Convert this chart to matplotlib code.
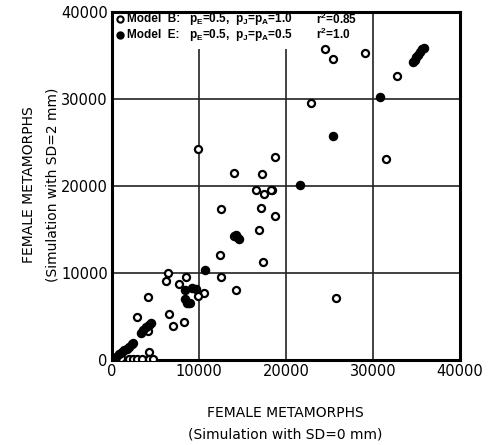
import numpy as np
import matplotlib.pyplot as plt

plt.rcParams['mathtext.fontset'] = 'custom'
plt.rcParams['mathtext.rm'] = 'Liberation Sans:bold'
plt.rcParams['mathtext.it'] = 'Liberation Sans:bold'
plt.rcParams['mathtext.bf'] = 'Liberation Sans:bold'

# Model B (open circles): simulation SD=0 vs SD=2
model_b_x = [24480, 25360, 29080, 32800, 22900, 31490, 18350, 18740, 25710,
             9920, 18700, 14020, 17240, 16550, 17430, 18240, 12490, 17160,
             16900, 14020, 12450, 17360, 6440, 8470, 12530, 6210, 7700,
             10610, 9920, 14290, 8970, 4180, 6510, 8280, 7050, 2910, 4100,
             2450, 4290, 1900, 2400, 2900, 3400, 4300, 4700, 1000]
model_b_y = [35710, 34630, 35250, 32680, 29500, 23140, 19540, 16550, 7160,
             24210, 23290, 21530, 21340, 19500, 19120, 19500, 17390, 17510,
             14980, 14290, 12110, 11230, 9960, 9580, 9540, 9080, 8740,
             7740, 7360, 8050, 6590, 7280, 5250, 4400, 3910, 4980, 3370,
             1920, 950, 100, 80, 100, 150, 150, 100, 200]

# Model E (filled circles)
model_e_x = [34600, 34800, 35000, 35200, 35400, 35600, 35900, 30800, 25440,
             21600, 14200, 14400, 14600, 10690, 8350, 9230, 9620, 8400,
             8600, 8800, 3300, 3600, 3900, 4200, 4500, 200, 500, 800, 1100,
             1400, 1700, 2000, 2300]
model_e_y = [34200, 34500, 34800, 35100, 35400, 35700, 35900, 30190, 25780,
             20060, 14400, 14100, 13900, 10340, 8010, 8310, 8160, 7000,
             6600, 6500, 3100, 3500, 3800, 4000, 4200, 100, 400, 700, 900,
             1100, 1300, 1500, 1800]

ticks = [0, 10000, 20000, 30000, 40000]

fig = plt.figure(figsize=(4.88, 4.45), dpi=100)
ax = fig.add_axes([0.2295, 0.191, 0.713, 0.782])

ax.set_xlim(0, 40000)
ax.set_ylim(0, 40000)
ax.set_xticks(ticks)
ax.set_yticks(ticks)
ax.set_xticklabels([str(t) for t in ticks], fontsize=10.5, family='DejaVu Sans')
ax.set_yticklabels([str(t) for t in ticks], fontsize=10.5, family='DejaVu Sans')
ax.tick_params(length=0, pad=3)

for v in ticks[1:-1]:
    ax.axvline(v, color='#222222', lw=1.2, zorder=1)
    ax.axhline(v, color='#222222', lw=1.2, zorder=1)

for s in ax.spines.values():
    s.set_linewidth(2.2)

ax.scatter(model_b_x, model_b_y, s=26, facecolors='white', edgecolors='black',
           linewidths=1.6, zorder=3)
ax.scatter(model_e_x, model_e_y, s=34, color='black', zorder=4)

# legend block in upper left
ax.add_patch(plt.Rectangle((0.005, 0.895), 0.72, 0.1, transform=ax.transAxes,
                           facecolor='white', edgecolor='none', zorder=2))
fs = 8.5
rows = [('white', 'Model  B:', r'p$_{E}$=0.5,  p$_{J}$=p$_{A}$=1.0', r'r$^{2}$=0.85', 0.979),
        ('black', 'Model  E:', r'p$_{E}$=0.5,  p$_{J}$=p$_{A}$=0.5', r'r$^{2}$=1.0', 0.935)]
for fc, name, ptxt, rtxt, yy in rows:
    ax.plot([0.022], [yy], marker='o', ms=4.5, mfc=fc, mec='black', mew=1.5,
            transform=ax.transAxes, zorder=5, clip_on=False)
    ax.text(0.043, yy, name, transform=ax.transAxes, fontsize=fs,
            fontweight='bold', family='Liberation Sans', va='center', zorder=5)
    ax.text(0.222, yy, ptxt, transform=ax.transAxes, fontsize=fs,
            fontweight='bold', family='Liberation Sans', va='center', zorder=5)
    ax.text(0.585, yy, rtxt, transform=ax.transAxes, fontsize=fs,
            fontweight='bold', family='Liberation Sans', va='center', zorder=5)

fig.text(0.585, 0.072, 'FEMALE METAMORPHS', ha='center', va='center',
         fontsize=10, family='DejaVu Sans')
fig.text(0.585, 0.024, '(Simulation with SD=0 mm)', ha='center', va='center',
         fontsize=10, family='DejaVu Sans')
fig.text(0.06, 0.585, 'FEMALE METAMORPHS', ha='center', va='center',
         rotation=90, fontsize=10, family='DejaVu Sans')
fig.text(0.107, 0.585, '(Simulation with SD=2 mm)', ha='center', va='center',
         rotation=90, fontsize=10, family='DejaVu Sans')

fig.savefig('out.png', dpi=100)
